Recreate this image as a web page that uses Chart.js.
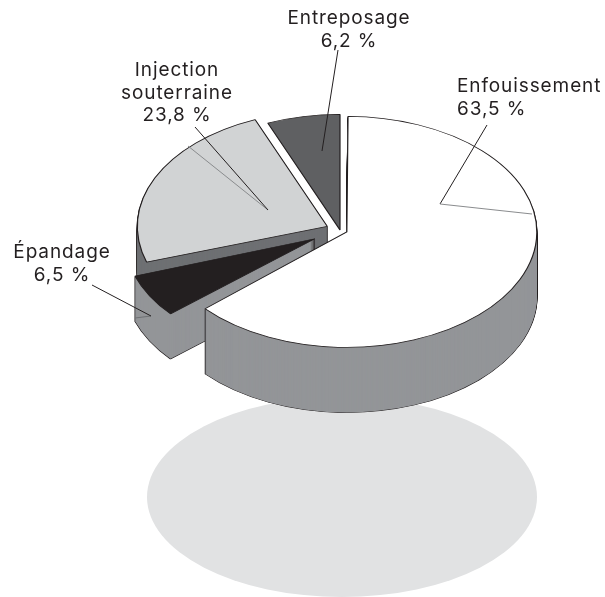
<!DOCTYPE html>
<html>
<head>
<meta charset="utf-8">
<style>
  html, body { margin: 0; padding: 0; background: #fff; }
  canvas { display: block; }
</style>
<script src="https://cdn.jsdelivr.net/npm/chart.js@4"></script>
</head>
<body>
<canvas id="chart" width="605" height="597"></canvas>
<script>
// data
var categories = ['Enfouissement', 'Épandage', 'Injection souterraine', 'Entreposage'];
var values = [63.5, 6.5, 23.8, 6.2];

// style of the slices, same order as categories
var topColors = ['#ffffff', '#231f20', '#d1d3d4', '#5f6062'];
var sideColors = ['#939598', '#939598', '#6e7073', '#5f6062'];
var sliceOffsets = [30, 116, 56, 0];
var sliceDepths = [65, 45, 48, 0];
var drawOrder = [3, 2, 1, 0]; // back to front

var radius = 190;
var squash = 0.608;
var pieX = 340;
var pieY = 230;

// text blocks: lines, x, first baseline, alignment
var labels = [
    { lines: ['Entreposage', '6,2 %'], x: 349, y: 24, align: 'center' },
    { lines: ['Injection', 'souterraine', '23,8 %'], x: 177, y: 76, align: 'center' },
    { lines: ['Enfouissement', '63,5 %'], x: 457, y: 92, align: 'left' },
    { lines: ['Épandage', '6,5 %'], x: 62, y: 258, align: 'center' }
];
var leaders = [
    { from: [338, 50], to: [322, 151], color: '#231f20' },
    { from: [487, 125], to: [440, 204], color: '#231f20' },
    { from: [532, 214], to: [440, 204], color: '#8a8c8e' },
    { from: [188, 146], to: [268, 210], color: '#8a8c8e' },
    { from: [195, 127], to: [268, 210], color: '#231f20' },
    { from: [135, 318], to: [151, 316], color: '#6e7073' },
    { from: [92, 285], to: [151, 316], color: '#231f20' }
];

// draw one arc squashed, moved down by dy, with some options replaced
function drawArc(ctx, arc, dy, override) {
    var orig = arc.options;
    arc.options = Object.assign({}, orig, override);
    ctx.save();
    ctx.translate(pieX, pieY + dy);
    ctx.scale(1, squash);
    ctx.translate(-arc.x, -arc.y);
    arc.draw(ctx);
    ctx.restore();
    arc.options = orig;
}

var pie3d = {
    id: 'pie3d',
    beforeDatasetsDraw: function (chart) {
        var ctx = chart.ctx;
        var arcs = chart.getDatasetMeta(0).data;

        // shadow on the floor
        ctx.fillStyle = '#e1e2e3';
        ctx.beginPath();
        ctx.ellipse(342, 497, 195, 100, 0, 0, Math.PI * 2);
        ctx.fill();

        drawOrder.forEach(function (i) {
            var arc = arcs[i];
            // the library grows an offset slice, keep all radii the same
            var fix = 1 - Math.sin(Math.min(Math.PI, arc.circumference));
            arc.outerRadius = radius - sliceOffsets[i] / 4 * fix;

            var d;
            // outline of the extruded block, then the wall colour over it
            for (d = sliceDepths[i]; d > 0; d--) {
                drawArc(ctx, arc, d, { backgroundColor: '#231f20', borderColor: '#231f20', borderWidth: 1.4 });
            }
            for (d = sliceDepths[i]; d > 0; d--) {
                drawArc(ctx, arc, d, { backgroundColor: sideColors[i], borderWidth: 0 });
            }
            drawArc(ctx, arc, 0, { backgroundColor: topColors[i], borderColor: '#231f20', borderWidth: 1.2 });
        });
        return false;
    },
    afterDraw: function (chart) {
        var ctx = chart.ctx;
        ctx.save();
        ctx.lineWidth = 1;
        leaders.forEach(function (l) {
            ctx.strokeStyle = l.color;
            ctx.beginPath();
            ctx.moveTo(l.from[0], l.from[1]);
            ctx.lineTo(l.to[0], l.to[1]);
            ctx.stroke();
        });
        ctx.fillStyle = '#231f20';
        ctx.font = '19px Inter';
        ctx.letterSpacing = '0.9px';
        ctx.textBaseline = 'alphabetic';
        labels.forEach(function (b) {
            ctx.textAlign = b.align;
            b.lines.forEach(function (line, n) {
                ctx.fillText(line, b.x, b.y + n * 22.7);
            });
        });
        ctx.restore();
    }
};

new Chart(document.getElementById('chart'), {
    type: 'pie',
    data: {
        labels: categories,
        datasets: [{
            data: values,
            backgroundColor: topColors,
            offset: sliceOffsets,
            radius: radius,
            borderWidth: 0
        }]
    },
    options: {
        responsive: false,
        animation: false,
        events: [],
        layout: { padding: 0 },
        plugins: {
            legend: { display: false },
            tooltip: { enabled: false }
        }
    },
    plugins: [pie3d]
});
</script>
</body>
</html>
